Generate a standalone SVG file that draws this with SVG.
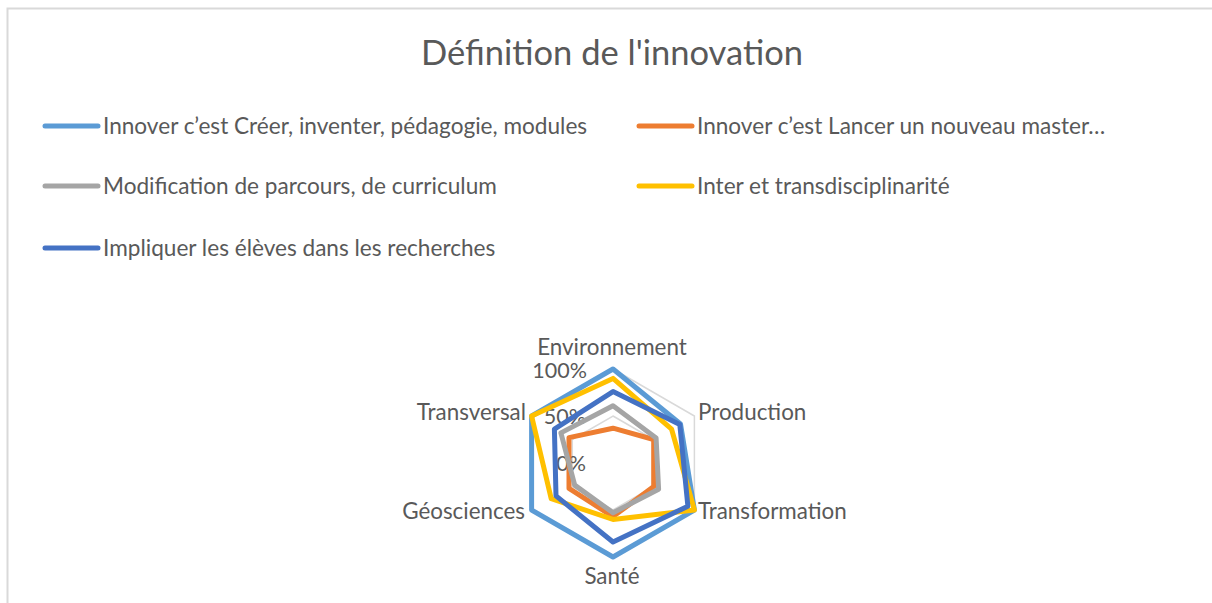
<svg xmlns="http://www.w3.org/2000/svg" width="1212" height="603" viewBox="0 0 1212 603">
<style>
  text { font-family: Lato, "Open Sans", sans-serif; fill: #595959; }
  .title { font-size: 34.5px; }
  .leg { font-size: 22.6px; }
  .ax { font-size: 22.4px; }
  .tick { font-size: 21.5px; }
  .ll { stroke-width: 5; stroke-linecap: round; fill: none; }
  .ser { stroke-width: 5; stroke-linejoin: round; fill: none; }
  .grid { stroke: #D9D9D9; stroke-width: 1.5; fill: none; }
</style>
<rect x="0" y="0" width="1212" height="603" fill="#FFFFFF"/>
<path d="M7.5,603 V8.5 H1212" stroke="#D9D9D9" stroke-width="2" fill="none"/>
<g id="title"><text class="title" x="612" y="65" text-anchor="middle">Définition de l'innovation</text></g>
<g id="legend">
  <g id="leg1"><line class="ll" x1="45" y1="126" x2="98" y2="126" stroke="#5B9BD5"/><text class="leg" x="103" y="134">Innover c’est Créer, inventer, pédagogie, modules</text></g>
  <g id="leg2"><line class="ll" x1="639" y1="126" x2="692" y2="126" stroke="#ED7D31"/><text class="leg" x="697" y="134">Innover c’est Lancer un nouveau master…</text></g>
  <g id="leg3"><line class="ll" x1="45" y1="186" x2="98" y2="186" stroke="#A5A5A5"/><text class="leg" x="103" y="194">Modification de parcours, de curriculum</text></g>
  <g id="leg4"><line class="ll" x1="639" y1="186" x2="692" y2="186" stroke="#FFC000"/><text class="leg" x="697" y="194">Inter et transdisciplinarité</text></g>
  <g id="leg5"><line class="ll" x1="45" y1="248" x2="98" y2="248" stroke="#4472C4"/><text class="leg" x="103" y="256">Impliquer les élèves dans les recherches</text></g>
</g>
<g id="grid">
  <polygon class="grid" points="613,369 694.4,416 694.4,510 613,557 531.6,510 531.6,416"/>
  <polygon class="grid" points="613,416 653.7,439.5 653.7,486.5 613,510 572.3,486.5 572.3,439.5"/>
</g>
<g id="ticks">
  <text class="tick" x="587" y="378" text-anchor="end">100%</text>
  <text class="tick" x="586" y="424" text-anchor="end">50%</text>
  <text class="tick" x="586" y="471" text-anchor="end">0%</text>
</g>
<g id="axis-labels">
  <g id="ax-env"><text class="ax" x="612" y="355" text-anchor="middle">Environnement</text></g>
  <g id="ax-prod"><text class="ax" x="698" y="420">Production</text></g>
  <g id="ax-trans"><text class="ax" x="698" y="519">Transformation</text></g>
  <g id="ax-sante"><text class="ax" x="612" y="584" text-anchor="middle">Santé</text></g>
  <g id="ax-geo"><text class="ax" x="525" y="519" text-anchor="end">Géosciences</text></g>
  <g id="ax-transv"><text class="ax" x="526" y="420" text-anchor="end">Transversal</text></g>
</g>
<g id="series">
  <polygon id="s1" class="ser" stroke="#5B9BD5" points="613,369 680.5,424 694.4,510 613,557 531.6,510 531.6,416"/>
  <polygon id="s2" class="ser" stroke="#ED7D31" points="613,428.2 653.7,439.5 653.7,486.5 613,516.6 569,488.4 569,437.6"/>
  <polygon id="s3" class="ser" stroke="#A5A5A5" points="613,405.7 656.1,438.1 658.6,489.3 613,512.8 574.7,485.1 560.9,432.9"/>
  <polygon id="s4" class="ser" stroke="#FFC000" points="613,378.4 671.6,429.2 694.4,510 613,519.4 551.2,498.7 531.6,416"/>
  <polygon id="s5" class="ser" stroke="#4472C4" points="613,391.6 679.8,424.5 687.9,506.2 613,542 556,495.9 554.4,429.2"/>
</g>
</svg>
